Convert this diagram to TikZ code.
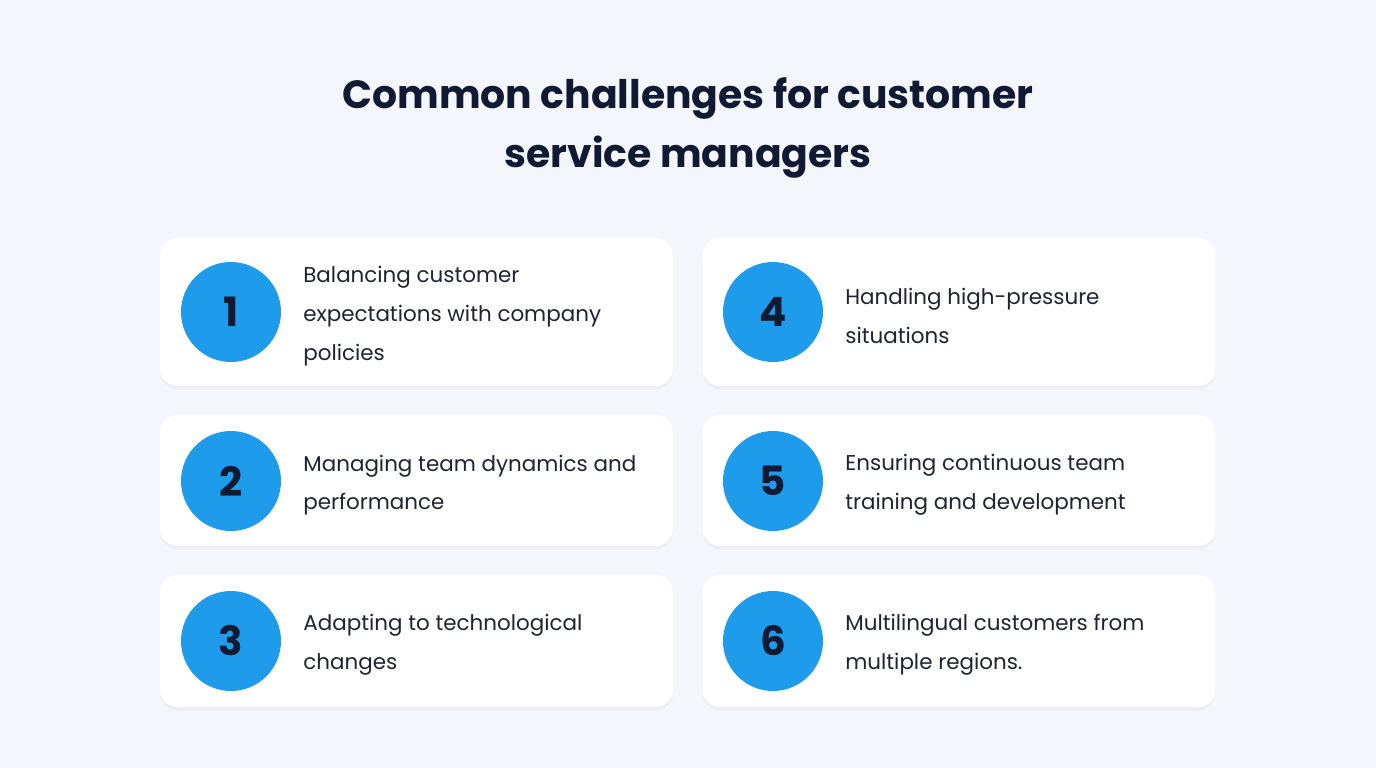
\documentclass[tikz,border=0pt]{standalone}
\usepackage{fontspec}
\setmainfont{Poppins}
\usetikzlibrary{positioning, shadows}
\definecolor{bgcol}{HTML}{F3F6FA}
\definecolor{navy}{HTML}{111A33}
\definecolor{ballblue}{HTML}{1E9BEA}
\definecolor{txtcol}{HTML}{1F2430}

\begin{document}
\begin{tikzpicture}[x=0.02cm, y=-0.02cm]

    % Styles for cards, balls and texts
    \tikzset{
        card/.style = {rectangle, fill=white, rounded corners=10pt,
                       minimum width=10.26cm, inner sep=0pt,
                       drop shadow={opacity=0.06, shadow xshift=0pt, shadow yshift=-2pt}},
        ball/.style = {circle, fill=ballblue, minimum size=2cm, inner sep=0pt,
                       text=navy, font=\fontsize{23}{23}\selectfont\bfseries},
        label/.style = {anchor=west, align=left, text=txtcol, inner sep=0pt,
                        font=\fontsize{12.2}{22}\selectfont}
    }

    % Background
    \fill[bgcol] (0,0) rectangle (1376,768);

    % Title
    \node[text=navy, align=center, font=\fontsize{22.4}{34}\selectfont\bfseries] (title) at (688,128)
        {Common challenges for customer\\service managers};

    % Left column
    \node[card, minimum height=2.96cm] (card1) at (416.5,312) {};
    \node[ball] (ball1) at (231,312) {1};
    \node[label] (text1) at (303,316) {Balancing customer\\expectations with company\\policies};

    \node[card, minimum height=2.62cm] (card2) at (416.5,480.5) {};
    \node[ball] (ball2) at (231,481) {2};
    \node[label] (text2) at (303,485) {Managing team dynamics and\\performance};

    \node[card, minimum height=2.64cm] (card3) at (416.5,641) {};
    \node[ball] (ball3) at (231,641) {3};
    \node[label] (text3) at (303,645) {Adapting to technological\\changes};

    % Right column
    \node[card, minimum height=2.96cm] (card4) at (959,312) {};
    \node[ball] (ball4) at (773,312) {4};
    \node[label] (text4) at (845,316) {Handling high-pressure\\situations};

    \node[card, minimum height=2.62cm] (card5) at (959,480.5) {};
    \node[ball] (ball5) at (773,481) {5};
    \node[label] (text5) at (845,485) {Ensuring continuous team\\training and development};

    \node[card, minimum height=2.64cm] (card6) at (959,641) {};
    \node[ball] (ball6) at (773,641) {6};
    \node[label] (text6) at (845,645) {Multilingual customers from\\multiple regions.};

\end{tikzpicture}
\end{document}
